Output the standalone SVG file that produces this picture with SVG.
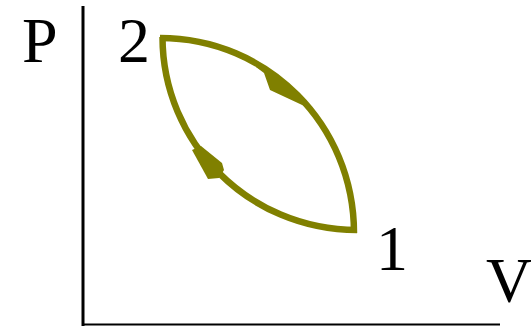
<svg xmlns="http://www.w3.org/2000/svg" width="531" height="326" viewBox="0 0 531 326">
<style>
.lbl{font-family:"Liberation Serif","Times New Roman",serif;font-size:64px;fill:#000}
.curve{fill:none;stroke:#808000;stroke-width:6.5}
.head{fill:#808000;stroke:none}
</style>
<rect width="531" height="326" fill="#fff"/>
<g id="axes">
<line x1="83" y1="6" x2="83" y2="326" stroke="#000" stroke-width="3"/>
<line x1="82" y1="324.5" x2="500" y2="324.5" stroke="#000" stroke-width="2"/>
</g>
<g id="labels">
<text class="lbl" x="22" y="62">P</text>
<text class="lbl" x="118" y="62">2</text>
<text class="lbl" x="376" y="270">1</text>
<text class="lbl" x="486" y="302">V</text>
</g>
<g id="connectors">
<path class="curve" d="M160,38 C268,38 354,125 354,233"/>
<path class="curve" d="M162.5,37 C162.5,142 248,230 357,230"/>
<polygon class="head" points="256,67 264,73 270,90 315,111 300,96 276,75 263,66"/>
<polygon class="head" points="192,150 208,179 219,178 224,170 222,163 201,146"/>
</g>
</svg>
